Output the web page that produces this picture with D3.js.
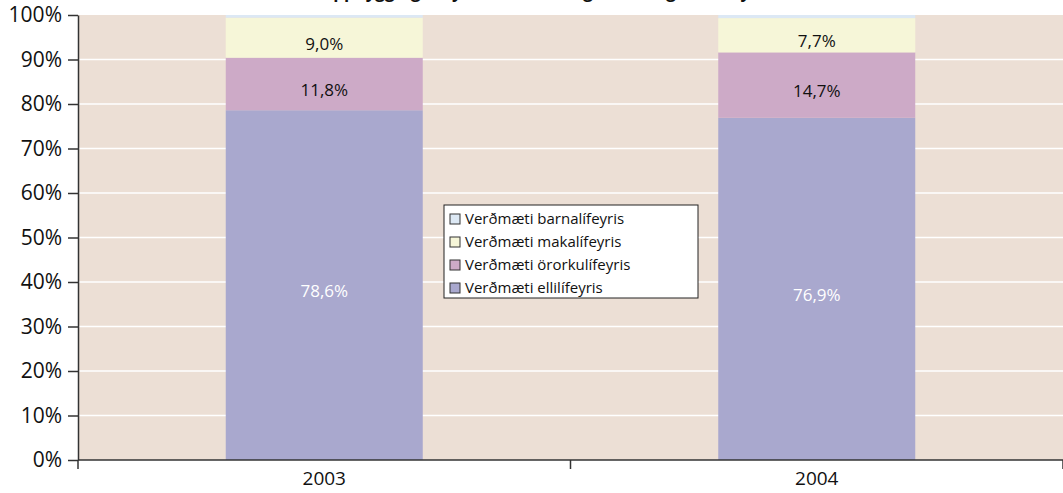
<!DOCTYPE html>
<html>
<head>
<meta charset="utf-8">
<script src="https://cdn.jsdelivr.net/npm/d3@7"></script>
<style>
  body { margin: 0; background: #fff; }
  svg { display: block; font-family: "Open Sans", "Noto Sans", sans-serif; }
</style>
</head>
<body>
<svg id="chart"></svg>
<script>
// categories and series (share of value, %)
const years = ['2003', '2004'];
const seriesNames = ['Verðmæti ellilífeyris', 'Verðmæti örorkulífeyris', 'Verðmæti makalífeyris', 'Verðmæti barnalífeyris'];
const elli = [78.6, 76.9];
const ororku = [11.8, 14.7];
const maka = [9.0, 7.7];
const barna = [0.6, 0.7];
const yTicks = [0, 10, 20, 30, 40, 50, 60, 70, 80, 90, 100];
const seriesColors = ['#a9a8ce', '#cdaac7', '#f6f6d8', '#dce8f4'];
const labelColors = ['#ffffff', '#111111', '#111111', null];

const W = 1063, H = 493;
const margin = { top: 15, right: 0, bottom: 33, left: 78 };
const width = W - margin.left - margin.right;
const height = H - margin.top - margin.bottom;

const rows = years.map((y, i) => ({
  year: y,
  [seriesNames[0]]: elli[i],
  [seriesNames[1]]: ororku[i],
  [seriesNames[2]]: maka[i],
  [seriesNames[3]]: barna[i]
}));
const stacked = d3.stack().keys(seriesNames)(rows);

const svg = d3.select('#chart').attr('width', W).attr('height', H);

// title, mostly cut off at the top edge
svg.append('text')
  .attr('x', 546).attr('y', -2)
  .attr('text-anchor', 'middle')
  .style('font-size', '17px').style('font-weight', 'bold')
  .attr('fill', '#111')
  .text('Uppbygging lífeyrisskuldbindinga eftir tegund lífeyris');

const chart = svg.append('g').attr('transform', `translate(${margin.left},${margin.top})`);

const band = d3.scaleBand().domain(years).range([0, width]).paddingInner(0).paddingOuter(0);
const x = d3.scaleBand().domain(years).range([0, width]).paddingInner(0.6).paddingOuter(0.3);
const y = d3.scaleLinear().domain([0, 100]).range([height, 0]);

// plot background
chart.append('rect')
  .attr('width', width).attr('height', height)
  .attr('fill', '#ecdfd5');

// gridlines
chart.append('g').selectAll('line')
  .data(yTicks.filter(d => d > 0 && d < 100))
  .join('line')
  .attr('x1', 0).attr('x2', width)
  .attr('y1', d => y(d)).attr('y2', d => y(d))
  .attr('stroke', '#ffffff').attr('stroke-width', 1.5);

// bars
const layer = chart.selectAll('g.layer')
  .data(stacked)
  .join('g')
  .attr('class', 'layer')
  .attr('fill', (d, i) => seriesColors[i]);

layer.selectAll('rect')
  .data(d => d)
  .join('rect')
  .attr('x', d => x(d.data.year))
  .attr('width', x.bandwidth())
  .attr('y', d => y(d[1]))
  .attr('height', d => y(d[0]) - y(d[1]));

// value labels
stacked.forEach((s, i) => {
  if (!labelColors[i]) return;
  chart.append('g').selectAll('text')
    .data(s)
    .join('text')
    .attr('x', d => x(d.data.year) + x.bandwidth() / 2)
    .attr('y', d => (y(d[0]) + y(d[1])) / 2 + 12)
    .attr('text-anchor', 'middle')
    .attr('fill', labelColors[i])
    .style('font-size', '17px')
    .text(d => d3.format('.1f')(d[1] - d[0]).replace('.', ',') + '%');
});

// y axis
const yAxis = d3.axisLeft(y).tickValues(yTicks).tickSize(10).tickSizeOuter(0)
  .tickFormat(d => d + '%');
const yAxisG = chart.append('g').call(yAxis);
yAxisG.select('.domain').attr('stroke', '#333').attr('stroke-width', 1.5);
yAxisG.selectAll('.tick line').attr('stroke', '#333').attr('stroke-width', 1.5);
yAxisG.selectAll('.tick text')
  .attr('x', -16)
  .attr('fill', '#111')
  .style('font-size', '21px')
  .style('font-family', '"Open Sans", sans-serif');

// x axis: ticks at category boundaries
const xAxisG = chart.append('g').attr('transform', `translate(0,${height})`);
xAxisG.append('line')
  .attr('x1', 0).attr('x2', width)
  .attr('stroke', '#333').attr('stroke-width', 1.5);
const bounds = years.map(d => band(d)).concat([width]);
xAxisG.selectAll('line.tk')
  .data(bounds)
  .join('line')
  .attr('class', 'tk')
  .attr('x1', d => d).attr('x2', d => d)
  .attr('y1', 0).attr('y2', 9)
  .attr('stroke', '#333').attr('stroke-width', 1.5);
xAxisG.selectAll('text')
  .data(years)
  .join('text')
  .attr('x', d => band(d) + band.bandwidth() / 2)
  .attr('y', 25)
  .attr('text-anchor', 'middle')
  .attr('fill', '#111')
  .style('font-size', '19px')
  .text(d => d);

// legend
const legend = svg.append('g').attr('transform', 'translate(444,205)');
legend.append('rect')
  .attr('width', 254).attr('height', 93)
  .attr('fill', '#ffffff').attr('stroke', '#222').attr('stroke-width', 1);
const legendOrder = [3, 2, 1, 0];
const item = legend.selectAll('g.item')
  .data(legendOrder)
  .join('g')
  .attr('class', 'item')
  .attr('transform', (d, i) => `translate(6,${9 + i * 23})`);
item.append('rect')
  .attr('width', 10).attr('height', 10)
  .attr('fill', d => seriesColors[d])
  .attr('stroke', '#333').attr('stroke-width', 1);
item.append('text')
  .attr('x', 15).attr('y', 10)
  .attr('fill', '#111')
  .style('font-size', '15px')
  .text(d => seriesNames[d]);
</script>
</body>
</html>
